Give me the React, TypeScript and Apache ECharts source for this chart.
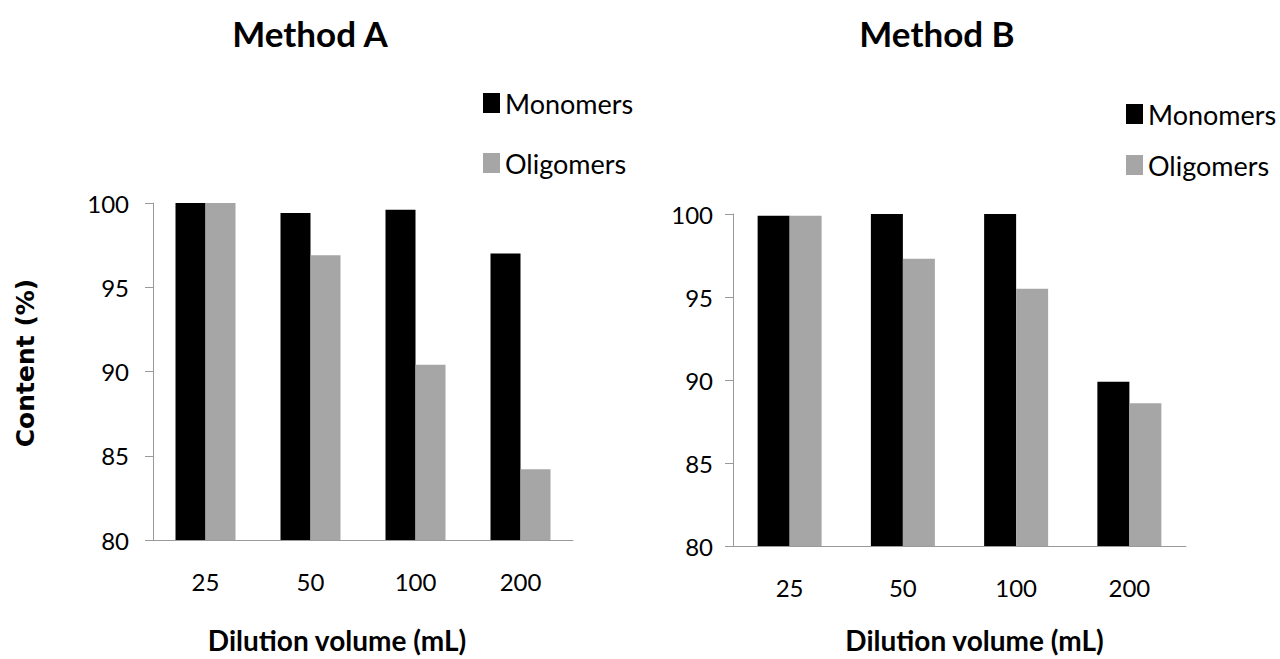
import React, { useEffect, useRef } from "react";
import * as echarts from "echarts";

const categories = ["25", "50", "100", "200"];
const monomersA = [100, 99.4, 99.6, 97.0];
const oligomersA = [100, 96.9, 90.4, 84.2];
const monomersB = [99.9, 100, 100, 89.9];
const oligomersB = [99.9, 97.3, 95.5, 88.6];
const seriesNames = ["Monomers", "Oligomers"];
const titles = ["Method A", "Method B"];
const xTitle = "Dilution volume (mL)";
const yTitle = "Content (%)";

const FONT = "Lato, 'Open Sans', sans-serif";
const BLACK = "#000000";
const GRAY = "#a6a6a6";
const AXIS = "#9a9a9a";

export default function App() {
  const ref = useRef<HTMLDivElement>(null);
  useEffect(() => {
    if (!ref.current) return;
    const chart = echarts.init(ref.current, undefined, { renderer: "svg" });
    const mkY = (idx: number, labelMargin: number) => ({
      type: "value",
      gridIndex: idx,
      min: 80,
      max: 100,
      interval: 5,
      splitLine: { show: false },
      axisLine: { show: true, lineStyle: { color: AXIS, width: 1 } },
      axisTick: { show: true, length: 8, lineStyle: { color: AXIS } },
      axisLabel: { fontFamily: FONT, fontSize: 24, color: "#000", margin: labelMargin },
    });
    const mkX = (idx: number, gap: number, pad: number[]) => ({
      type: "category",
      gridIndex: idx,
      data: categories,
      name: xTitle,
      nameLocation: "middle",
      nameGap: gap,
      nameTextStyle: {
        fontFamily: FONT,
        fontWeight: "bold",
        fontSize: 28,
        color: "#000",
        padding: pad,
      },
      axisLine: { show: true, lineStyle: { color: AXIS, width: 1 } },
      axisTick: { show: false },
      axisLabel: { fontFamily: FONT, fontSize: 24, color: "#000", margin: 29 },
    });
    const mkBar = (name: string, data: number[], color: string, idx: number, w: number) => ({
      type: "bar",
      name,
      data,
      xAxisIndex: idx,
      yAxisIndex: idx,
      barWidth: w,
      barGap: "0%",
      itemStyle: { color },
    });
    const legendCommon = {
      orient: "vertical",
      data: seriesNames,
      itemWidth: 17,
      itemHeight: 20,
      padding: 0,
      textStyle: { fontFamily: FONT, fontSize: 27, color: "#000", lineHeight: 30 },
      icon: "rect",
      selectedMode: false,
    };
    chart.setOption({
      animation: false,
      backgroundColor: "#ffffff",
      title: [
        {
          text: titles[0],
          left: 305,
          top: 10,
          textAlign: "center",
          textStyle: { fontFamily: FONT, fontWeight: "bold", fontSize: 35, color: "#000" },
        },
        {
          text: titles[1],
          left: 932,
          top: 10,
          textAlign: "center",
          textStyle: { fontFamily: FONT, fontWeight: "bold", fontSize: 35, color: "#000" },
        },
      ],
      legend: [
        { ...legendCommon, left: 483, top: 88, itemGap: 30 },
        { ...legendCommon, left: 1126, top: 99, itemGap: 21 },
      ],
      grid: [
        { left: 153, top: 203, width: 420, height: 339 },
        { left: 733, top: 214, width: 453, height: 334 },
      ],
      xAxis: [mkX(0, 86, [0, 52, 0, 0]), mkX(1, 80, [0, 0, 0, 30])],
      yAxis: [mkY(0, 24), mkY(1, 20)],
      graphic: [
        {
          type: "text",
          x: 25,
          y: 363,
          rotation: Math.PI / 2,
          style: {
            text: yTitle,
            fontFamily: "'DejaVu Sans', sans-serif",
            fontWeight: "bold",
            fontSize: 25,
            fill: "#000",
            align: "center",
            verticalAlign: "middle",
          },
        },
      ],
      series: [
        mkBar(seriesNames[0], monomersA, BLACK, 0, 30),
        mkBar(seriesNames[1], oligomersA, GRAY, 0, 30),
        mkBar(seriesNames[0], monomersB, BLACK, 1, 32),
        mkBar(seriesNames[1], oligomersB, GRAY, 1, 32),
      ],
    });
    return () => chart.dispose();
  }, []);
  return (
    <div
      ref={ref}
      style={{ position: "fixed", left: 0, top: 0, width: 1280, height: 659, background: "#fff" }}
    />
  );
}
